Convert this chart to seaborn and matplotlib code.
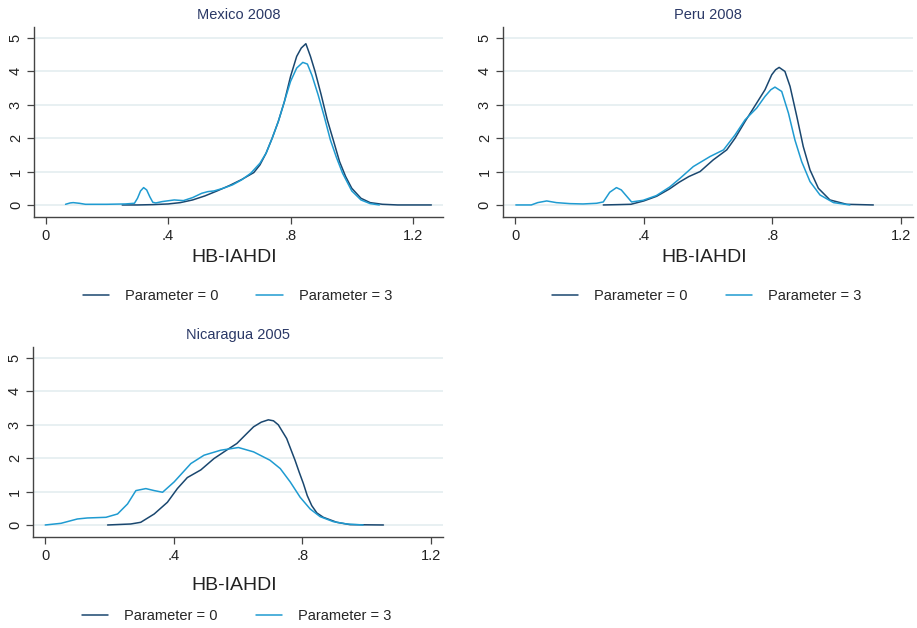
import pandas as pd
import matplotlib
matplotlib.use("Agg")
import matplotlib.pyplot as plt
from matplotlib.lines import Line2D
import seaborn as sns

# density estimates
mex_x0 = [0.25, 0.30, 0.35, 0.40, 0.44, 0.48, 0.52, 0.56, 0.60, 0.64, 0.68, 0.70, 0.72, 0.74,
          0.76, 0.78, 0.80, 0.82, 0.835, 0.85, 0.865, 0.88, 0.90, 0.92, 0.94, 0.96, 0.98, 1.00,
          1.03, 1.06, 1.10, 1.15, 1.20, 1.26]
mex_y0 = [0.0, 0.0, 0.01, 0.03, 0.07, 0.15, 0.27, 0.42, 0.58, 0.76, 0.97, 1.2, 1.55, 2.0,
          2.5, 3.1, 3.85, 4.45, 4.7, 4.83, 4.45, 4.0, 3.3, 2.55, 1.93, 1.3, 0.85, 0.5,
          0.2, 0.07, 0.02, 0.0, 0.0, 0.0]
mex_x3 = [0.065, 0.08, 0.09, 0.11, 0.13, 0.20, 0.26, 0.29, 0.30, 0.31, 0.32, 0.33, 0.34, 0.35,
          0.36, 0.38, 0.42, 0.45, 0.48, 0.51, 0.53, 0.55, 0.58, 0.61, 0.64, 0.67, 0.70, 0.72,
          0.74, 0.76, 0.78, 0.80, 0.82, 0.84, 0.855, 0.87, 0.89, 0.91, 0.93, 0.95, 0.97, 1.0,
          1.03, 1.06, 1.09]
mex_y3 = [0.02, 0.06, 0.07, 0.05, 0.02, 0.02, 0.03, 0.05, 0.2, 0.42, 0.52, 0.45, 0.25, 0.08,
          0.06, 0.1, 0.15, 0.13, 0.22, 0.35, 0.4, 0.42, 0.5, 0.6, 0.75, 0.95, 1.25, 1.55,
          2.0, 2.5, 3.1, 3.7, 4.1, 4.27, 4.22, 3.88, 3.3, 2.65, 1.95, 1.42, 0.95, 0.42,
          0.15, 0.04, 0.0]

per_x0 = [0.274, 0.32, 0.36, 0.40, 0.44, 0.48, 0.51, 0.54, 0.575, 0.616, 0.658, 0.684, 0.715,
          0.751, 0.777, 0.798, 0.81, 0.821, 0.839, 0.855, 0.876, 0.896, 0.917, 0.943, 0.979,
          1.031, 1.114]
per_y0 = [0.0, 0.01, 0.02, 0.12, 0.26, 0.48, 0.68, 0.85, 1.0, 1.35, 1.65, 2.0, 2.5,
          3.05, 3.45, 3.9, 4.05, 4.12, 4.0, 3.55, 2.65, 1.75, 1.05, 0.5, 0.15,
          0.02, 0.0]
per_x3 = [0.002, 0.05, 0.07, 0.098, 0.128, 0.17, 0.211, 0.253, 0.274, 0.294, 0.315, 0.33,
          0.362, 0.398, 0.439, 0.481, 0.513, 0.554, 0.606, 0.648, 0.684, 0.715, 0.751, 0.777,
          0.795, 0.808, 0.829, 0.85, 0.87, 0.891, 0.917, 0.948, 0.99, 1.041]
per_y3 = [0.0, 0.0, 0.07, 0.12, 0.07, 0.04, 0.03, 0.05, 0.09, 0.38, 0.52, 0.45,
          0.09, 0.14, 0.28, 0.54, 0.8, 1.15, 1.45, 1.65, 2.1, 2.55, 2.9, 3.25,
          3.45, 3.53, 3.4, 2.75, 1.95, 1.3, 0.7, 0.3, 0.07, 0.0]

nic_x0 = [0.194, 0.266, 0.297, 0.339, 0.38, 0.411, 0.442, 0.484, 0.525, 0.567, 0.596, 0.625,
          0.648, 0.672, 0.694, 0.71, 0.725, 0.751, 0.777, 0.79, 0.803, 0.815, 0.829, 0.845,
          0.865, 0.907, 0.948, 1.052]
nic_y0 = [0.0, 0.03, 0.08, 0.33, 0.68, 1.09, 1.42, 1.65, 1.99, 2.26, 2.44, 2.72,
          2.94, 3.08, 3.15, 3.12, 3.0, 2.59, 1.94, 1.58, 1.24, 0.88, 0.58, 0.36,
          0.23, 0.08, 0.01, 0.0]
nic_x3 = [0.0, 0.049, 0.1, 0.131, 0.189, 0.225, 0.256, 0.282, 0.313, 0.339, 0.365, 0.401,
          0.453, 0.494, 0.546, 0.601, 0.648, 0.699, 0.731, 0.762, 0.793, 0.824, 0.855,
          0.896, 0.938, 0.989]
nic_y3 = [0.0, 0.05, 0.18, 0.21, 0.23, 0.33, 0.63, 1.03, 1.09, 1.03, 0.98, 1.29,
          1.84, 2.09, 2.24, 2.32, 2.19, 1.94, 1.69, 1.29, 0.83, 0.48, 0.25,
          0.1, 0.03, 0.0]

titles = ["Mexico 2008", "Peru 2008", "Nicaragua 2005"]
labels = ["Parameter = 0", "Parameter = 3"]
colors = ["#1a476f", "#1f9bd1"]

sns.set_style("white")
plt.rcParams["font.family"] = ["Liberation Sans", "DejaVu Sans"]

fig = plt.figure(figsize=(9.17, 6.28), dpi=100)

# axes position, x max and the two curves for each panel
panels = [
    ([0.0371, 0.6545, 0.446, 0.3025], 1.298, mex_x0, mex_y0, mex_x3, mex_y3),
    ([0.5485, 0.6545, 0.447, 0.3025], 1.237, per_x0, per_y0, per_x3, per_y3),
    ([0.0360, 0.1449, 0.447, 0.3025], 1.237, nic_x0, nic_y0, nic_x3, nic_y3),
]

for i, (pos, xmax, x0, y0, x3, y3) in enumerate(panels):
    ax = fig.add_axes(pos)
    df = pd.concat([
        pd.DataFrame({"x": x0, "density": y0, "param": labels[0]}),
        pd.DataFrame({"x": x3, "density": y3, "param": labels[1]}),
    ])
    sns.lineplot(data=df, x="x", y="density", hue="param", palette=colors,
                 estimator=None, linewidth=1.1, legend=False, ax=ax)

    ax.set_xlim(-0.038, xmax)
    ax.set_ylim(-0.36, 5.33)
    ax.set_xticks([0, 0.4, 0.8, 1.2])
    ax.set_xticklabels(["0", ".4", ".8", "1.2"])
    ax.set_yticks([0, 1, 2, 3, 4, 5])
    ax.grid(axis="y", color="#e8f0f2", linewidth=1.4)
    ax.set_axisbelow(True)
    for s in ["top", "right"]:
        ax.spines[s].set_visible(False)
    for s in ["left", "bottom"]:
        ax.spines[s].set_color("#444444")
        ax.spines[s].set_linewidth(1.0)
    ax.tick_params(axis="both", direction="out", length=5, width=0.9,
                   color="#444444", labelsize=10.5, labelcolor="#222222",
                   left=True, bottom=True)
    ax.tick_params(axis="y", pad=3)
    plt.setp(ax.get_yticklabels(), rotation=90, va="center")
    ax.set_xlabel("")
    ax.set_ylabel("")

    ax.set_title(titles[i], fontsize=10.5, color="#2a3866", pad=6)
    ylab = -0.215 if i < 2 else -0.255
    ax.text(0.49, ylab, "HB-IAHDI", transform=ax.transAxes, fontsize=14,
            ha="center", va="center", color="#222222")

    handles = [Line2D([], [], color=c, linewidth=1.1) for c in colors]
    ax.legend(handles, labels, loc="center", bbox_to_anchor=(0.497, -0.418),
              ncol=2, frameon=False, fontsize=10.5, handlelength=1.8,
              handletextpad=1.1, columnspacing=2.6)

fig.savefig("out.png", dpi=100)
